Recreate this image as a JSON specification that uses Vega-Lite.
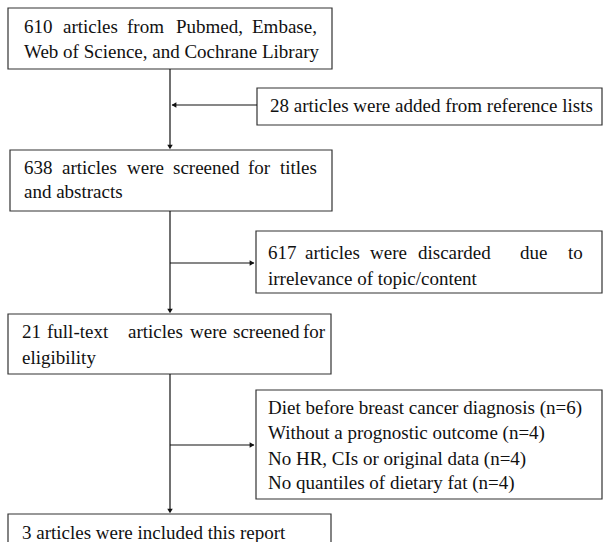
{
  "$schema": "https://vega.github.io/schema/vega-lite/v6.json",
  "width": 603,
  "height": 542,
  "autosize": {"type": "none"},
  "padding": 0,
  "background": "white",
  "config": {"view": {"stroke": null}},
  "datasets": {
    "boxes": [
      {"x": 8, "x2": 332, "y": 8, "y2": 69},
      {"x": 257, "x2": 602, "y": 88, "y2": 125},
      {"x": 10, "x2": 332, "y": 150, "y2": 211},
      {"x": 256, "x2": 602, "y": 231, "y2": 293},
      {"x": 8, "x2": 331, "y": 314, "y2": 374},
      {"x": 256, "x2": 602, "y": 390, "y2": 499},
      {"x": 8, "x2": 331, "y": 514, "y2": 570}
    ],
    "lines": [
      {"x": 170, "y": 69, "x2": 170, "y2": 148},
      {"x": 170, "y": 211, "x2": 170, "y2": 312},
      {"x": 170, "y": 374, "x2": 170, "y2": 512},
      {"x": 257, "y": 105, "x2": 172, "y2": 105},
      {"x": 170, "y": 263, "x2": 254, "y2": 263},
      {"x": 170, "y": 445, "x2": 254, "y2": 445}
    ],
    "arrows": [
      {"x": 170, "y": 147, "shape": "triangle-down"},
      {"x": 170, "y": 311, "shape": "triangle-down"},
      {"x": 170, "y": 511, "shape": "triangle-down"},
      {"x": 174, "y": 105, "shape": "triangle-left"},
      {"x": 252, "y": 263, "shape": "triangle-right"},
      {"x": 252, "y": 445, "shape": "triangle-right"}
    ],
    "labels": [
      {"x": 24, "y": 27, "text": "610"},
      {"x": 63, "y": 27, "text": "articles"},
      {"x": 127, "y": 27, "text": "from"},
      {"x": 176, "y": 27, "text": "Pubmed,"},
      {"x": 252, "y": 27, "text": "Embase,"},
      {"x": 24, "y": 52, "text": "Web of Science, and Cochrane Library"},
      {"x": 270, "y": 106, "text": "28 articles were added from reference lists"},
      {"x": 24, "y": 168, "text": "638"},
      {"x": 62, "y": 168, "text": "articles"},
      {"x": 127, "y": 168, "text": "were"},
      {"x": 173, "y": 168, "text": "screened"},
      {"x": 248, "y": 168, "text": "for"},
      {"x": 280, "y": 168, "text": "titles"},
      {"x": 24, "y": 192, "text": "and abstracts"},
      {"x": 268, "y": 253, "text": "617"},
      {"x": 305, "y": 253, "text": "articles"},
      {"x": 370, "y": 253, "text": "were"},
      {"x": 418, "y": 253, "text": "discarded"},
      {"x": 520, "y": 253, "text": "due"},
      {"x": 568, "y": 253, "text": "to"},
      {"x": 268, "y": 279, "text": "irrelevance of topic/content"},
      {"x": 22, "y": 332, "text": "21"},
      {"x": 47, "y": 332, "text": "full-text"},
      {"x": 128, "y": 332, "text": "articles"},
      {"x": 190, "y": 332, "text": "were"},
      {"x": 233, "y": 332, "text": "screened"},
      {"x": 303, "y": 332, "text": "for"},
      {"x": 22, "y": 358, "text": "eligibility"},
      {"x": 268, "y": 408, "text": "Diet before breast cancer  diagnosis (n=6)"},
      {"x": 268, "y": 433, "text": "Without a prognostic outcome (n=4)"},
      {"x": 268, "y": 459, "text": "No HR, CIs or original data (n=4)"},
      {"x": 268, "y": 483, "text": "No quantiles of dietary fat (n=4)"},
      {"x": 22, "y": 533, "text": "3 articles were included this report"}
    ]
  },
  "layer": [
    {
      "data": {"name": "boxes"},
      "mark": {"type": "rect", "fill": "white", "stroke": "#333333", "strokeWidth": 1.2},
      "encoding": {
        "x": {"field": "x", "type": "quantitative", "scale": {"domain": [0, 603], "nice": false, "zero": false}, "axis": null},
        "x2": {"field": "x2"},
        "y": {"field": "y", "type": "quantitative", "scale": {"domain": [0, 542], "nice": false, "zero": false, "reverse": true}, "axis": null},
        "y2": {"field": "y2"}
      }
    },
    {
      "data": {"name": "lines"},
      "mark": {"type": "rule", "color": "#111111", "strokeWidth": 1.2},
      "encoding": {
        "x": {"field": "x", "type": "quantitative", "axis": null},
        "x2": {"field": "x2"},
        "y": {"field": "y", "type": "quantitative", "axis": null},
        "y2": {"field": "y2"}
      }
    },
    {
      "data": {"name": "arrows"},
      "mark": {"type": "point", "filled": true, "color": "#111111", "size": 30, "opacity": 1},
      "encoding": {
        "x": {"field": "x", "type": "quantitative", "axis": null},
        "y": {"field": "y", "type": "quantitative", "axis": null},
        "shape": {"field": "shape", "type": "nominal", "scale": null, "legend": null}
      }
    },
    {
      "data": {"name": "labels"},
      "mark": {"type": "text", "align": "left", "baseline": "middle", "font": "Liberation Serif", "fontSize": 19, "color": "#111111"},
      "encoding": {
        "x": {"field": "x", "type": "quantitative", "axis": null},
        "y": {"field": "y", "type": "quantitative", "axis": null},
        "text": {"field": "text", "type": "nominal"}
      }
    }
  ]
}
